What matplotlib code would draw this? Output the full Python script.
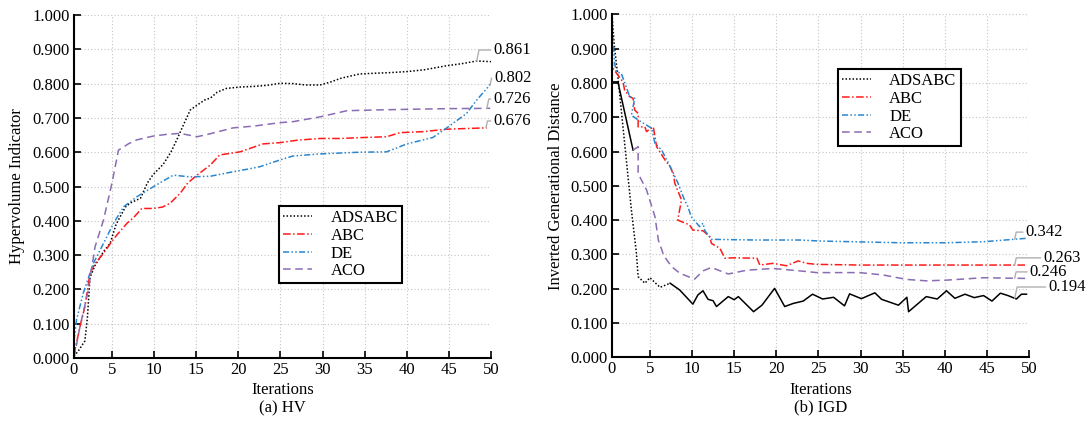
import numpy as np
import matplotlib
matplotlib.use('Agg')
from matplotlib import pyplot as plt
from matplotlib.ticker import FormatStrFormatter

plt.rcParams['font.family'] = ['Liberation Serif', 'DejaVu Serif']
plt.rcParams['font.size'] = 12

names = ['ADSABC', 'ABC', 'DE', 'ACO']

# (a) HV
hv_ads_x = [0.5, 1.0, 1.8, 2.1, 2.4, 3.0, 4.0, 4.8, 5.5, 6.6, 7.2, 8.4, 9.2, 9.9, 11.1, 12.0, 12.7,
            13.5, 14.3, 15.1, 16.0, 16.7, 17.5, 18.6, 20.2, 22.0, 23.4, 25.0, 26.5, 28.0, 29.7, 31.0,
            32.1, 33.3, 34.4, 36.0, 38.0, 40.0, 42.0, 44.7, 46.5, 48.3, 50.0]
hv_ads_y = [0.005, 0.02, 0.05, 0.12, 0.235, 0.27, 0.31, 0.335, 0.39, 0.44, 0.452, 0.466, 0.51, 0.535,
            0.565, 0.60, 0.636, 0.68, 0.723, 0.737, 0.752, 0.758, 0.775, 0.786, 0.79, 0.792, 0.795,
            0.801, 0.80, 0.796, 0.796, 0.805, 0.815, 0.822, 0.828, 0.830, 0.832, 0.835, 0.84, 0.852,
            0.858, 0.866, 0.864]
hv_abc_x = [0.5, 1.2, 1.8, 2.4, 3.0, 4.0, 5.0, 5.6, 6.8, 7.6, 8.55, 9.9, 11.0, 11.9, 13.1, 14.0, 15.1,
            16.7, 17.8, 20.2, 21.5, 22.9, 25.0, 27.0, 29.7, 32.0, 35.0, 37.6, 39.2, 42.0, 44.7, 47.0, 49.5]
hv_abc_y = [0.01, 0.09, 0.15, 0.247, 0.275, 0.305, 0.34, 0.359, 0.393, 0.41, 0.436, 0.436, 0.44, 0.451,
            0.48, 0.51, 0.533, 0.563, 0.592, 0.601, 0.612, 0.624, 0.628, 0.635, 0.64, 0.64, 0.643,
            0.645, 0.657, 0.66, 0.667, 0.669, 0.671]
hv_de_x = [0.5, 0.8, 1.6, 2.8, 4.0, 5.2, 6.4, 7.96, 9.9, 11.0, 12.3, 14.3, 16.7, 19.4, 21.0, 22.6,
           24.9, 26.5, 29.7, 34.4, 37.6, 40.0, 43.1, 44.7, 47.1, 48.3, 50.0]
hv_de_y = [0.05, 0.111, 0.189, 0.276, 0.334, 0.393, 0.441, 0.47, 0.499, 0.515, 0.533, 0.528, 0.53,
           0.543, 0.55, 0.558, 0.577, 0.589, 0.595, 0.6, 0.601, 0.624, 0.643, 0.67, 0.713, 0.752, 0.80]
hv_aco_x = [0.5, 1.2, 2.2, 3.0, 4.0, 5.0, 5.78, 7.0, 7.96, 9.9, 11.5, 13.1, 15.1, 16.7, 19.4, 21.8,
            24.9, 26.5, 29.7, 32.9, 36.0, 40.0, 45.0, 49.9]
hv_aco_y = [0.0, 0.09, 0.198, 0.324, 0.402, 0.509, 0.606, 0.625, 0.636, 0.647, 0.652, 0.655, 0.645,
            0.654, 0.671, 0.676, 0.686, 0.689, 0.703, 0.721, 0.723, 0.725, 0.727, 0.728]
hv_final = [0.861, 0.676, 0.802, 0.726]

# (b) IGD
igd_ads_x = [0.5, 0.75, 1.2, 2.0, 2.8, 3.4, 3.6, 4.4, 5.0, 6.2, 7.4, 8.55, 10.1, 10.7, 11.3, 11.9,
             12.5, 12.9, 14.3, 15.0, 15.5, 17.3, 18.3, 19.8, 21.0, 22.0, 23.2, 24.3, 25.5, 26.8,
             28.1, 28.7, 30.1, 31.7, 32.5, 34.5, 35.5, 35.7, 37.8, 39.1, 40.2, 41.2, 42.4, 43.5,
             44.6, 45.6, 46.6, 47.5, 48.5, 49.1, 49.7]
igd_ads_y = [1.0, 0.915, 0.818, 0.624, 0.43, 0.303, 0.235, 0.216, 0.232, 0.204, 0.216, 0.196, 0.155,
             0.182, 0.194, 0.169, 0.165, 0.148, 0.177, 0.168, 0.177, 0.133, 0.152, 0.201, 0.148,
             0.157, 0.164, 0.184, 0.170, 0.175, 0.150, 0.185, 0.171, 0.188, 0.169, 0.152, 0.175,
             0.133, 0.177, 0.170, 0.194, 0.172, 0.184, 0.174, 0.180, 0.164, 0.187, 0.180, 0.170,
             0.184, 0.184]
igd_abc_x = [0.5, 0.6, 1.2, 1.8, 2.0, 2.6, 3.0, 3.2, 3.6, 3.6, 4.4, 4.6, 5.4, 5.8, 6.8, 7.4, 7.8,
             7.96, 8.75, 8.3, 9.7, 10.1, 11.3, 12.1, 12.3, 13.3, 13.9, 14.8, 17.7, 18.05, 19.6,
             21.2, 22.6, 23.6, 24.8, 30.0, 40.0, 49.7]
igd_abc_y = [0.872, 0.843, 0.823, 0.803, 0.779, 0.76, 0.755, 0.721, 0.711, 0.672, 0.672, 0.658,
             0.672, 0.614, 0.575, 0.556, 0.532, 0.507, 0.459, 0.40, 0.386, 0.371, 0.369, 0.352,
             0.332, 0.318, 0.289, 0.29, 0.289, 0.269, 0.274, 0.267, 0.281, 0.274, 0.271, 0.269,
             0.269, 0.269]
igd_de_x = [0.5, 0.6, 0.8, 1.0, 1.6, 2.6, 3.2, 2.8, 3.6, 5.2, 5.6, 6.4, 7.2, 7.8, 8.35, 9.1, 9.5,
            9.9, 10.9, 11.3, 11.5, 12.3, 17.5, 22.8, 25.2, 34.7, 40.2, 44.6, 49.7]
igd_de_y = [0.915, 0.935, 0.86, 0.833, 0.828, 0.76, 0.755, 0.706, 0.692, 0.668, 0.624, 0.604,
            0.566, 0.536, 0.507, 0.459, 0.44, 0.41, 0.381, 0.391, 0.37, 0.344, 0.342, 0.342,
            0.339, 0.334, 0.334, 0.337, 0.347]
igd_aco_x = [0.5, 1.2, 3.0, 3.6, 3.6, 4.6, 5.6, 6.0, 6.6, 7.0, 7.6, 8.55, 10.3, 11.3, 12.3, 14.3,
             16.5, 19.6, 22.8, 24.8, 29.9, 32.7, 35.5, 37.8, 40.2, 44.6, 49.7]
igd_aco_y = [0.803, 0.803, 0.604, 0.614, 0.536, 0.488, 0.41, 0.342, 0.30, 0.284, 0.264, 0.245,
             0.228, 0.252, 0.262, 0.243, 0.254, 0.259, 0.252, 0.247, 0.247, 0.24, 0.227, 0.223,
             0.225, 0.232, 0.23]
igd_final = [0.194, 0.263, 0.342, 0.246]

colors = ['black', '#ff1a1a', '#2a86cf', '#8a6cb2']
styles = [(0, (1, 1.3)), (0, (5, 1.6, 1, 1.6)), (0, (4, 1.5, 1, 1.5, 1, 1.5)), (0, (5, 3))]
lw = 1.1

fig = plt.figure(figsize=(10.88, 4.23), dpi=100)
ax1 = fig.add_axes([0.0680, 0.1537, 0.3833, 0.8108])
ax2 = fig.add_axes([0.5625, 0.1553, 0.3833, 0.8108])


def style_axes(ax, ylabel, caption, leg_anchor):
    ax.set_xlim(0.5, 50)
    ax.set_ylim(0, 1)
    ax.set_xticks([0.5] + list(range(5, 51, 5)))
    ax.set_xticklabels(['0'] + [str(v) for v in range(5, 51, 5)])
    ax.set_yticks(np.linspace(0, 1, 11))
    ax.yaxis.set_major_formatter(FormatStrFormatter('%.3f'))
    ax.grid(True, color='#c4c4c4', linestyle=(0, (1, 2)), linewidth=0.8)
    ax.set_axisbelow(True)
    for s in ['top', 'right']:
        ax.spines[s].set_visible(False)
    for s in ['left', 'bottom']:
        ax.spines[s].set_linewidth(1.5)
    ax.tick_params(direction='in', length=5, width=1.2, labelsize=12, pad=3)
    ax.set_xlabel('Iterations', labelpad=3)
    ax.set_ylabel(ylabel, labelpad=5)
    ax.text(0.5, -0.146, caption, transform=ax.transAxes, ha='center', va='center', fontsize=12)
    leg = ax.legend(loc='upper left', bbox_to_anchor=leg_anchor, borderaxespad=0, fancybox=False,
                    edgecolor='black', framealpha=1, handlelength=1.75, handletextpad=1.1,
                    labelspacing=0.1, borderpad=0.25, fontsize=12)
    leg.get_frame().set_linewidth(1.5)


def label_end(ax, xs, ys, x_at, value, text_xy):
    y_at = np.interp(x_at, xs[-6:], ys[-6:])
    ax.annotate('%.3f' % value, xy=(x_at, y_at), xytext=text_xy, textcoords='data',
                ha='left', va='center', fontsize=12, annotation_clip=False,
                arrowprops=dict(arrowstyle='-', color='#b0b0b0', lw=1.0, shrinkA=0, shrinkB=0,
                                relpos=(0, 0.5),
                                connectionstyle='angle,angleA=0,angleB=78,rad=0'))


# HV panel
hv = [(hv_ads_x, hv_ads_y), (hv_abc_x, hv_abc_y), (hv_de_x, hv_de_y), (hv_aco_x, hv_aco_y)]
for (xs, ys), c, ls, n in zip(hv, colors, styles, names):
    ax1.plot(xs, ys, color=c, linestyle=ls, linewidth=lw, label=n)
style_axes(ax1, 'Hypervolume Indicator', '(a) HV', (0.4916, 0.443))
label_end(ax1, hv_ads_x, hv_ads_y, 48.3, hv_final[0], (50.3, 0.898))
label_end(ax1, hv_de_x, hv_de_y, 49.9, hv_final[2], (50.4, 0.816))
label_end(ax1, hv_aco_x, hv_aco_y, 49.5, hv_final[3], (50.3, 0.755))
label_end(ax1, hv_abc_x, hv_abc_y, 49.4, hv_final[1], (50.3, 0.691))

# IGD panel
split = 11
ax2.plot(igd_ads_x[:split], igd_ads_y[:split], color=colors[0], linestyle=styles[0], linewidth=lw,
         label=names[0])
ax2.plot(igd_ads_x[split - 1:], igd_ads_y[split - 1:], color=colors[0], linestyle='-', linewidth=lw)
ax2.plot(igd_abc_x, igd_abc_y, color=colors[1], linestyle=styles[1], linewidth=lw, label=names[1])
ax2.plot(igd_de_x, igd_de_y, color=colors[2], linestyle=styles[2], linewidth=lw, label=names[2])
ax2.plot(igd_aco_x[:3], igd_aco_y[:3], color='black', linestyle='-', linewidth=lw)
ax2.plot(igd_aco_x[2:], igd_aco_y[2:], color=colors[3], linestyle=styles[3], linewidth=lw,
         label=names[3])
style_axes(ax2, 'Inverted Generational Distance', '(b) IGD', (0.541, 0.8405))
label_end(ax2, igd_de_x, igd_de_y, 48.3, igd_final[2], (49.6, 0.365))
label_end(ax2, igd_abc_x, igd_abc_y, 48.3, igd_final[1], (51.7, 0.29))
label_end(ax2, igd_aco_x, igd_aco_y, 48.3, igd_final[3], (50.1, 0.249))
label_end(ax2, igd_ads_x, igd_ads_y, 48.3, igd_final[0], (52.3, 0.205))

fig.savefig('out.png', dpi=100)
